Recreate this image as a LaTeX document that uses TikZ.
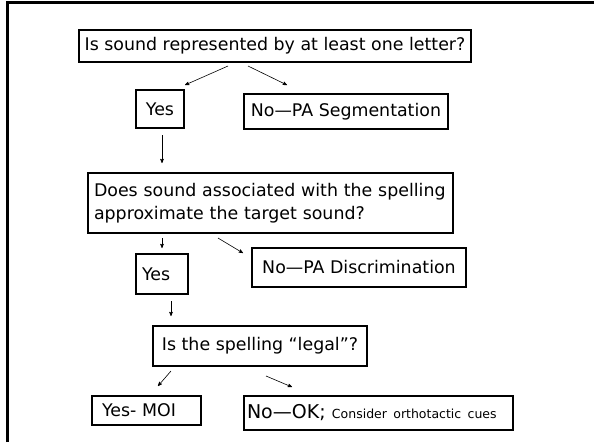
\documentclass[tikz,border=0pt]{standalone}
\usepackage{fontspec}
\setmainfont{DejaVu Sans}
\usetikzlibrary{arrows,calc}

\begin{document}
\begin{tikzpicture}[->,>=stealth',x=1pt,y=-1pt,semithick]
\tikzstyle{box}=[shape=rectangle,draw=black,line width=1.2pt,inner sep=0pt,outer sep=0pt,font=\fontsize{17.4}{23}\selectfont]
\useasboundingbox (0,0) rectangle (594,442);
\draw[-,line width=2.5pt] (7.5,442) |- (594,2.5);
% questions and answers
\node[box,line width=2pt,minimum width=392pt,minimum height=32pt] (Q1) at (275,46) {Is sound represented by at least one letter?};
\node[box,minimum width=48pt,minimum height=38pt] (Y1) at (160,109) {Yes};
\node[box,minimum width=204pt,minimum height=35pt] (N1) at (346,111.5) {No---PA Segmentation};
\node[box,line width=1.5pt,inner xsep=6pt,text width=353pt,align=left,minimum height=60pt] (Q2) at (270.5,203) {Does sound associated with the spelling\\approximate the target sound?};
\node[box,inner xsep=6pt,text width=40pt,align=left,minimum height=40pt] (Y2) at (162,274) {Yes};
\node[box,minimum width=214pt,minimum height=39pt] (N2) at (359,267.5) {No---PA Discrimination};
\node[box,minimum width=214pt,minimum height=40pt] (Q3) at (260,346) {Is the spelling “legal”?};
\node[box,inner xsep=10pt,text width=89pt,align=left,minimum height=29pt] (Y3) at (146.5,410.5) {Yes- MOI};
\node[box,inner xsep=3pt,text width=263pt,align=left,minimum height=34pt,font=\fontsize{19}{23}\selectfont] (N3) at (378.5,413) {No---OK; {\fontsize{12.5}{14}\selectfont Consider orthotactic cues}};
% arrows
\draw ($(Q1.south)+(-47,4)$) -- ($(Y1.north)+(25,-5)$);
\draw ($(Q1.south)+(-27,4)$) -- ($(N1.north)+(-59,-9)$);
\draw ($(Y1.south)+(2,7)$) -- ($(Q2.north west)+(74,-10)$);
\draw ($(Q2.south west)+(74,5)$) -- ($(Y2.north)+(0,-6)$);
\draw ($(Q2.south)+(-52.5,5)$) -- ($(N2.north west)+(-9,5)$);
\draw ($(Y2.south)+(9,7)$) -- ($(Q3.north west)+(18,-10)$);
\draw ($(Q3.south west)+(18,5)$) -- ($(Y3.north)+(11.5,-10)$);
\draw ($(Q3.south)+(6,10)$) -- ($(N3.north west)+(48,-9)$);
\end{tikzpicture}
\end{document}
